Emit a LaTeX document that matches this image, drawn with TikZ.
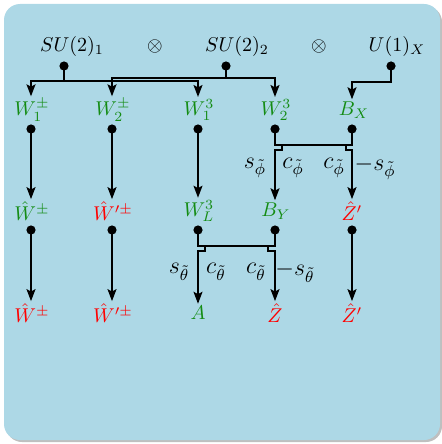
\documentclass[tikz,border=0pt]{standalone}
\usepackage{amsmath}
\usepackage{amssymb}
\usetikzlibrary{
    positioning,
    arrows.meta,
    calc
}
\definecolor{fondo}{RGB}{173,216,230}
\definecolor{verde}{RGB}{20,140,20}
\tikzset{
    >={Stealth[length=6pt,width=4.5pt,inset=1.2pt]},
    punto/.style={
        circle, fill=black,
        inner sep=0pt, minimum size=4.6pt
    },
    gauge/.style={
        text=verde, inner sep=1pt
    },
    masa/.style={
        text=red, inner sep=1pt
    },
    angulo/.style={
        font=\large, inner sep=1pt
    },
    linea/.style={
        line width=0.8pt
    }
}

\begin{document}
\begin{tikzpicture}[
    x=0.5pt, y=-0.5pt,
    >={Stealth[length=6pt,width=4.5pt,inset=1.2pt]}
]

    % Fondo
    \useasboundingbox (0,0) rectangle (442,444);
    \fill[black!25, rounded corners=8pt] (6,6) rectangle (442,442);
    \fill[fondo, rounded corners=8pt] (4,4) rectangle (440,440);

    % Grupos
    \node (su1) at (72,47)  {$SU(2)_1$};
    \node (ot1) at (155,47) {$\otimes$};
    \node (su2) at (237,47) {$SU(2)_2$};
    \node (ot2) at (319,47) {$\otimes$};
    \node (u1)  at (397,47) {$U(1)_X$};

    \node[punto] (su1d) at (64,66)  {};
    \node[punto] (su2d) at (226,66) {};
    \node[punto] (u1d)  at (391,66) {};

    % Campos gauge
    \node[gauge] (w1pm) at (32,110)  {$W_1^\pm$};
    \node[gauge] (w2pm) at (113,110) {$W_2^\pm$};
    \node[gauge] (w13)  at (199,110) {$W_1^3$};
    \node[gauge] (w23)  at (276,110) {$W_2^3$};
    \node[gauge] (bx)   at (354,110) {$B_X$};

    \node[punto] (w1pmd) at (31,129)  {};
    \node[punto] (w2pmd) at (112,129) {};
    \node[punto] (w13d)  at (198,129) {};
    \node[punto] (w23d)  at (275,129) {};
    \node[punto] (bxd)   at (352,129) {};

    % Primer paso
    \node[gauge] (hw)  at (32,211)  {$\hat{W}^\pm$};
    \node[masa]  (hwp) at (113,211) {$\hat{W}'^\pm$};
    \node[gauge] (wl3) at (199,211) {$W_L^3$};
    \node[gauge] (by)  at (276,211) {$B_Y$};
    \node[masa]  (zp)  at (352,211) {$\hat{Z}'$};

    \node[punto] (hwd)  at (31,230)  {};
    \node[punto] (hwpd) at (112,230) {};
    \node[punto] (wl3d) at (198,230) {};
    \node[punto] (byd)  at (275,230) {};
    \node[punto] (zpd)  at (352,230) {};

    % Estados de masa
    \node[masa]  (hw2)  at (32,313)  {$\hat{W}^\pm$};
    \node[masa]  (hwp2) at (113,313) {$\hat{W}'^\pm$};
    \node[gauge] (a)    at (198,313) {$A$};
    \node[masa]  (z)    at (275,313) {$\hat{Z}$};
    \node[masa]  (zp2)  at (352,313) {$\hat{Z}'$};

    % Rotaciones
    \node[angulo] (sphi)  at (255,168) {$s_{\tilde{\phi}}$};
    \node[angulo] (cphi)  at (293,168) {$c_{\tilde{\phi}}$};
    \node[angulo] (cphi2) at (334,168) {$c_{\tilde{\phi}}$};
    \node[angulo] (msphi) at (375,168) {$-s_{\tilde{\phi}}$};

    \node[angulo] (sth)  at (179,272) {$s_{\tilde{\theta}}$};
    \node[angulo] (cth)  at (216,272) {$c_{\tilde{\theta}}$};
    \node[angulo] (cth2) at (256,272) {$c_{\tilde{\theta}}$};
    \node[angulo] (msth) at (295,272) {$-s_{\tilde{\theta}}$};

    % Conexiones
    \begin{scope}[linea]
        \draw[->] (su1d.center) -- ++(0,15) -| (w1pmd |- w1pm.north);
        \draw[->] (su1d.center) -- ++(0,15) -| (w13d |- w13.north);
        \draw[->] (su2d.center) -- ++(0,12) -| (w2pmd |- w2pm.north);
        \draw[->] (su2d.center) -- ++(0,12) -| (w23d |- w23.north);
        \draw[->] (u1d.center)  -- ++(0,16) -| (bxd |- bx.north);

        \draw[->] (w1pmd.center) -- (w1pmd |- hw.north);
        \draw[->] (w2pmd.center) -- (w2pmd |- hwp.north);
        \draw[->] (w13d.center)  -- (w13d |- wl3.north);
        \draw (w23d.center) -- ++(0,16) -| (bxd.center);
        \draw[->] ([shift={(7,16)}]w23d.center) -- ++(0,5) -| (w23d |- by.north);
        \draw[->] ([shift={(-6,16)}]bxd.center) -- ++(0,5) -| (bxd |- zp.north);

        \draw[->] (hwd.center)  -- (hwd |- hw2.north);
        \draw[->] (hwpd.center) -- (hwpd |- hwp2.north);
        \draw (wl3d.center) -- ++(0,16) -| (byd.center);
        \draw[->] ([shift={(7,16)}]wl3d.center) -- ++(0,5) -| (wl3d |- a.north);
        \draw[->] ([shift={(-7,16)}]byd.center) -- ++(0,5) -| (byd |- z.north);
        \draw[->] (zpd.center)  -- (zpd |- zp2.north);
    \end{scope}

\end{tikzpicture}
\end{document}
